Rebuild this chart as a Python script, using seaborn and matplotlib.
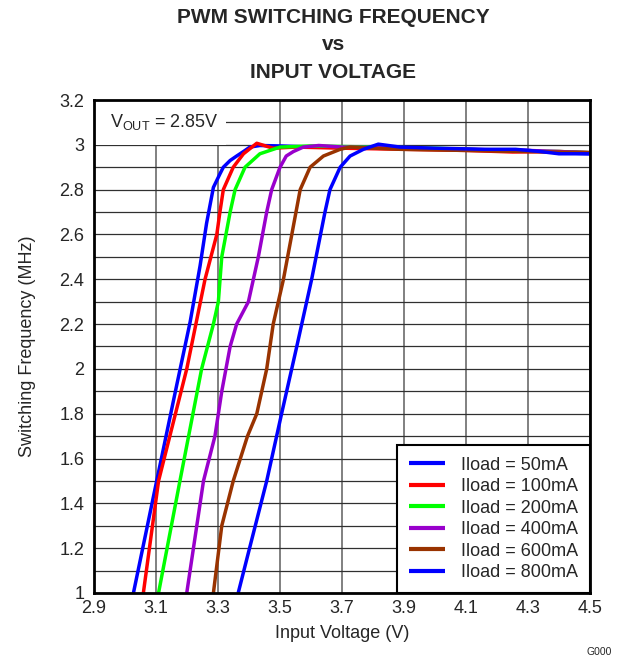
import matplotlib
matplotlib.use("Agg")
import matplotlib.pyplot as plt
from matplotlib.patches import Rectangle
import seaborn as sns
import numpy as np
import pandas as pd

# Curve data (Input Voltage in V, Switching Frequency in MHz)
vin_50 = [3.027, 3.102, 3.167, 3.210, 3.242, 3.263, 3.285, 3.306, 3.317, 3.339, 3.36, 3.382,
          3.403, 3.435, 3.5, 3.6, 3.7, 3.8, 3.9, 4.0, 4.1, 4.2, 4.3, 4.4, 4.5]
f_50 = [1.0, 1.5, 1.93, 2.21, 2.46, 2.65, 2.81, 2.87, 2.90, 2.93, 2.95, 2.97,
        2.99, 2.997, 2.995, 2.99, 2.99, 2.99, 2.985, 2.98, 2.98, 2.975, 2.975, 2.965, 2.96]

vin_100 = [3.059, 3.108, 3.199, 3.258, 3.296, 3.306, 3.317, 3.349, 3.382, 3.425, 3.477,
           3.55, 3.7, 3.9, 4.1, 4.25, 4.4, 4.5]
f_100 = [1.0, 1.5, 2.0, 2.4, 2.6, 2.7, 2.8, 2.9, 2.96, 3.007, 2.985,
         2.99, 2.985, 2.98, 2.975, 2.968, 2.97, 2.965]

vin_200 = [3.108, 3.177, 3.247, 3.285, 3.301, 3.312, 3.339, 3.355, 3.387, 3.435, 3.5,
           3.6, 3.8, 4.0, 4.2, 4.4, 4.5]
f_200 = [1.0, 1.5, 2.0, 2.2, 2.3, 2.5, 2.7, 2.8, 2.9, 2.96, 2.99,
         2.995, 2.99, 2.985, 2.975, 2.97, 2.965]

vin_400 = [3.199, 3.253, 3.290, 3.312, 3.339, 3.360, 3.398, 3.430, 3.457, 3.473, 3.5,
           3.52, 3.543, 3.575, 3.625, 3.7, 3.9, 4.1, 4.3, 4.5]
f_400 = [1.0, 1.5, 1.7, 1.9, 2.1, 2.2, 2.3, 2.5, 2.7, 2.8, 2.9,
         2.95, 2.97, 2.99, 2.997, 2.99, 2.985, 2.98, 2.975, 2.965]

vin_600 = [3.285, 3.312, 3.349, 3.395, 3.425, 3.457, 3.478, 3.511, 3.538, 3.565, 3.597,
           3.64, 3.694, 3.726, 3.887, 4.1, 4.3, 4.5]
f_600 = [1.0, 1.3, 1.5, 1.7, 1.8, 2.0, 2.2, 2.4, 2.6, 2.8, 2.9,
         2.95, 2.98, 2.99, 2.98, 2.975, 2.97, 2.965]

vin_800 = [3.365, 3.398, 3.457, 3.505, 3.554, 3.602, 3.645, 3.661, 3.694, 3.726, 3.769,
           3.817, 3.887, 4.0, 4.16, 4.26, 4.34, 4.4, 4.5]
f_800 = [1.0, 1.18, 1.5, 1.8, 2.1, 2.4, 2.7, 2.8, 2.9, 2.95, 2.98,
         3.003, 2.99, 2.985, 2.98, 2.98, 2.97, 2.96, 2.96]

labels = ["Iload = 50mA", "Iload = 100mA", "Iload = 200mA",
          "Iload = 400mA", "Iload = 600mA", "Iload = 800mA"]
colors = ["#0000FF", "#FF0000", "#00FF00", "#9900CC", "#993300", "#0000FF"]

x_ticks = [2.9, 3.1, 3.3, 3.5, 3.7, 3.9, 4.1, 4.3, 4.5]
y_ticks = [1, 1.2, 1.4, 1.6, 1.8, 2, 2.2, 2.4, 2.6, 2.8, 3, 3.2]

series = [(vin_50, f_50), (vin_100, f_100), (vin_200, f_200),
          (vin_400, f_400), (vin_600, f_600), (vin_800, f_800)]
frames = []
for lab, (xv, yv) in zip(labels, series):
    frames.append(pd.DataFrame({"vin": xv, "freq": yv, "load": lab}))
df = pd.concat(frames, ignore_index=True)

sns.set_style("white")
plt.rcParams['font.family'] = ['Liberation Sans', 'DejaVu Sans']

fig = plt.figure(figsize=(6.23, 6.61), dpi=100)
ax = fig.add_axes([0.151, 0.1029, 0.796, 0.7458])

sns.lineplot(data=df, x="vin", y="freq", hue="load", hue_order=labels,
             palette=dict(zip(labels, colors)), linewidth=2.5, ax=ax,
             estimator=None, sort=True, zorder=3)
for line in ax.get_lines():
    line.set_solid_joinstyle('round')
    line.set_solid_capstyle('butt')

ax.set_xlim(2.9, 4.5)
ax.set_ylim(1, 3.2)
ax.set_xticks(x_ticks)
ax.set_xticklabels([f"{v:.1f}" for v in x_ticks])
ax.set_yticks(y_ticks)
ax.set_yticklabels([f"{v:g}" for v in y_ticks])
ax.set_yticks(np.arange(1.1, 3.2, 0.2), minor=True)
ax.tick_params(axis='both', which='both', length=0, labelsize=13)
ax.tick_params(axis='y', pad=7)
ax.tick_params(axis='x', pad=5)

ax.set_axisbelow(True)
ax.grid(True, axis='x', which='major', color='#808080', linewidth=1.4)
ax.grid(True, axis='y', which='both', color='#303030', linewidth=0.9)
for sp in ax.spines.values():
    sp.set_color('black')
    sp.set_linewidth(2)
    sp.set_zorder(5)

# white panel behind the output voltage note
ax.add_patch(Rectangle((2.9, 3.0), 0.425, 0.2, facecolor='white', edgecolor='none', zorder=1))
ax.text(2.952, 3.1, r"V$_{\mathregular{OUT}}$ = 2.85V", fontsize=13, va='center', ha='left', zorder=4)

ax.set_xlabel("Input Voltage (V)", fontsize=13, labelpad=6)
ax.set_ylabel("Switching Frequency (MHz)", fontsize=13, labelpad=17)

handles, labs = ax.get_legend_handles_labels()
leg = ax.legend(handles, labs, loc='lower right', bbox_to_anchor=(1, 0), borderaxespad=0,
                fontsize=13, frameon=True, fancybox=False, edgecolor='black',
                handlelength=2.0, handletextpad=0.9, labelspacing=0.25, borderpad=0.65)
leg.get_frame().set_linewidth(1.5)
leg.get_frame().set_alpha(1)
for lh in leg.get_lines():
    lh.set_linewidth(3)

fig.text(0.535, 0.974, "PWM SWITCHING FREQUENCY", ha='center', va='center', fontsize=15, fontweight='bold')
fig.text(0.535, 0.933, "vs", ha='center', va='center', fontsize=15, fontweight='bold')
fig.text(0.535, 0.891, "INPUT VOLTAGE", ha='center', va='center', fontsize=15, fontweight='bold')
fig.text(0.982, 0.014, "G000", ha='right', va='center', fontsize=7.5)

fig.savefig("out.png", dpi=100)
plt.close(fig)
